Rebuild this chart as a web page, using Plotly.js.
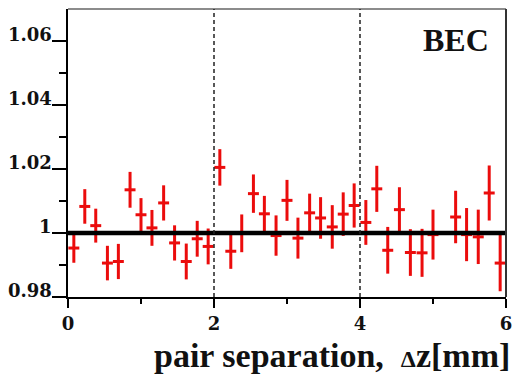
<!DOCTYPE html>
<html><head><meta charset="utf-8">
<script src="https://cdn.plot.ly/plotly-3.0.1.min.js"></script>
<style>html,body{margin:0;padding:0;background:#fff}</style>
</head><body>
<div id="chart" style="width:513px;height:376px"></div>
<script>
const separation = [0.08, 0.23, 0.38, 0.54, 0.69, 0.85, 1.00, 1.15, 1.31, 1.46, 1.62, 1.77, 1.92,
  2.08, 2.23, 2.38, 2.54, 2.69, 2.85, 3.00, 3.15, 3.31, 3.46, 3.62, 3.77, 3.92,
  4.08, 4.23, 4.38, 4.54, 4.69, 4.85, 5.00, 5.31, 5.46, 5.62, 5.77, 5.92];
const ratio = [0.9953, 1.0083, 1.0023, 0.9906, 0.9911, 1.0135, 1.0057, 1.0016, 1.0094, 0.9969, 0.9911, 0.9982, 0.9958,
  1.0205, 0.9943, 0.9999, 1.0123, 1.0060, 0.9992, 1.0102, 0.9984, 1.0063, 1.0047, 1.0019, 1.0059, 1.0086,
  1.0033, 1.0138, 0.9946, 1.0073, 0.9939, 0.9938, 0.9995, 1.0050, 0.9995, 0.9988, 1.0125, 0.9906];
const ratioErr = [0.0046, 0.0054, 0.0053, 0.0054, 0.0055, 0.0056, 0.0052, 0.0056, 0.0055, 0.0055, 0.0056, 0.0056, 0.0056,
  0.0057, 0.0055, 0.0059, 0.0060, 0.0056, 0.0063, 0.0064, 0.0064, 0.0060, 0.0065, 0.0068, 0.0068, 0.0069,
  0.0070, 0.0072, 0.0073, 0.0070, 0.0073, 0.0075, 0.0078, 0.0082, 0.0083, 0.0085, 0.0086, 0.0088];
const binHalfWidth = 0.075;
const xTickVals = [0, 2, 4, 6];
const xTickText = ['0', '2', '4', '6'];
const xMinorVals = [1, 3, 5];
const yTickVals = [0.98, 1.00, 1.02, 1.04, 1.06];
const yTickText = ['0.98', '1', '1.02', '1.04', '1.06'];
const yMinorVals = [0.99, 1.01, 1.03, 1.05];
const refLevel = 1;
const dashedAt = [2, 4];
const xRange = [0, 6];
const yRange = [0.98, 1.07];

const red = 'rgb(235,12,12)';
const tickFont = {family: 'DejaVu Serif', size: 18, color: '#111', weight: 'bold'};

const trace = {
  x: separation, y: ratio, type: 'scatter', mode: 'markers',
  marker: {size: 1, color: red},
  error_y: {type: 'data', array: ratioErr, visible: true, color: red, thickness: 3, width: 0},
  error_x: {type: 'constant', value: binHalfWidth, visible: true, color: red, thickness: 3, width: 0},
  hoverinfo: 'skip', showlegend: false
};

const shapes = [
  {type: 'line', xref: 'x', yref: 'y', x0: xRange[0], x1: xRange[1], y0: refLevel, y1: refLevel,
   line: {color: 'black', width: 4.5}, layer: 'above'},
  {type: 'line', xref: 'paper', yref: 'paper', x0: 0, x1: 1, y0: 1, y1: 1,
   line: {color: '#666', width: 1.5}, layer: 'above'},
  {type: 'line', xref: 'paper', yref: 'paper', x0: 1, x1: 1, y0: 0, y1: 1,
   line: {color: '#333', width: 2}, layer: 'above'}
];
dashedAt.forEach(v => shapes.push({type: 'line', xref: 'x', yref: 'paper', x0: v, x1: v, y0: 0, y1: 1,
  line: {color: '#222', width: 1.5, dash: '4px,3px'}, layer: 'above'}));

const annotations = [
  {text: 'BEC', xref: 'paper', yref: 'paper', x: 0.966, y: 0.892, xanchor: 'right', yanchor: 'middle',
   showarrow: false, font: {family: 'Liberation Serif', size: 32, color: '#111', weight: 'bold'}},
  {text: 'pair separation,  <span style="font-size:24px">Δ</span>z[mm]', xref: 'paper', yref: 'paper',
   x: 0.602, y: -0.203, xanchor: 'center', yanchor: 'middle', showarrow: false,
   font: {family: 'Liberation Serif', size: 34, color: '#111', weight: 'bold'}}
];
yTickVals.forEach((v, i) => annotations.push({
  text: yTickText[i], xref: 'paper', yref: 'y', x: -0.033, y: v, xanchor: 'right', yanchor: 'middle',
  yshift: 7, showarrow: false, font: tickFont
}));

const layout = {
  width: 513, height: 376,
  margin: {l: 68, r: 7, t: 9, b: 79},
  paper_bgcolor: 'white', plot_bgcolor: 'white',
  showlegend: false,
  xaxis: {
    range: xRange, showgrid: false, zeroline: false,
    showline: true, linecolor: 'black', linewidth: 2,
    ticks: 'outside', ticklen: 9, tickwidth: 2, tickcolor: 'black',
    tickmode: 'array', tickvals: xTickVals, ticktext: xTickText, tickfont: tickFont,
    minor: {tickmode: 'array', tickvals: xMinorVals, ticks: 'outside', ticklen: 5, tickwidth: 2, tickcolor: 'black', showgrid: false}
  },
  yaxis: {
    range: yRange, showgrid: false, zeroline: false,
    showline: true, linecolor: 'black', linewidth: 2,
    ticks: 'outside', ticklen: 14, tickwidth: 2, tickcolor: 'black',
    tickmode: 'array', tickvals: yTickVals, showticklabels: false,
    minor: {tickmode: 'array', tickvals: yMinorVals, ticks: 'outside', ticklen: 7, tickwidth: 2, tickcolor: 'black', showgrid: false}
  },
  shapes: shapes,
  annotations: annotations
};

Plotly.newPlot('chart', [trace], layout, {displayModeBar: false, staticPlot: true});
</script>
</body></html>
